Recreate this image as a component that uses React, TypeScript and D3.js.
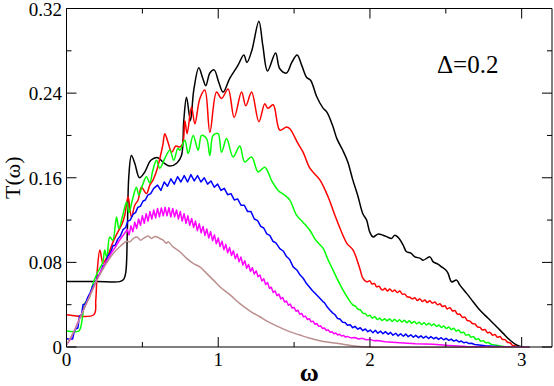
import React from 'react';
import * as d3 from 'd3';

// curve data: [omega, T]
const blackCurve: [number, number][] = [
  [0, 0.062], [0.2, 0.062], [0.351, 0.0618], [0.378, 0.0642], [0.391, 0.0708], [0.401, 0.11], [0.411, 0.162],
  [0.428, 0.181], [0.45, 0.1737], [0.481, 0.16], [0.514, 0.165], [0.556, 0.1765], [0.602, 0.179], [0.641, 0.174],
  [0.681, 0.171], [0.728, 0.174], [0.758, 0.181], [0.773, 0.214], [0.791, 0.236], [0.817, 0.214], [0.839, 0.243],
  [0.872, 0.264], [0.898, 0.254], [0.918, 0.247], [0.945, 0.259], [0.973, 0.262], [1.004, 0.25], [1.032, 0.241],
  [1.076, 0.254], [1.129, 0.266], [1.169, 0.276], [1.189, 0.269], [1.221, 0.28], [1.268, 0.308], [1.294, 0.285],
  [1.325, 0.261], [1.378, 0.278], [1.406, 0.263], [1.45, 0.259], [1.485, 0.269], [1.52, 0.276], [1.551, 0.266],
  [1.582, 0.255], [1.61, 0.252], [1.648, 0.237], [1.69, 0.226], [1.716, 0.222], [1.755, 0.209], [1.782, 0.197],
  [1.821, 0.186], [1.854, 0.175], [1.887, 0.158], [1.92, 0.143], [1.953, 0.126], [1.978, 0.12], [1.999, 0.1086],
  [2.021, 0.104], [2.052, 0.1067], [2.087, 0.1057], [2.118, 0.1038], [2.142, 0.1026], [2.164, 0.1057], [2.191, 0.1029],
  [2.219, 0.0963], [2.241, 0.09], [2.27, 0.0887], [2.296, 0.0852], [2.329, 0.084], [2.351, 0.0821], [2.395, 0.0852],
  [2.417, 0.0805], [2.448, 0.0783], [2.472, 0.0758], [2.5, 0.0727], [2.515, 0.0696], [2.538, 0.0616], [2.571, 0.0632],
  [2.593, 0.0585], [2.637, 0.0507], [2.68, 0.0428], [2.724, 0.0349], [2.779, 0.0271], [2.835, 0.0192], [2.878, 0.0129],
  [2.922, 0.0066], [2.966, 0.0019], [3.01, 0], [3.05, 0],
];

const redCurve: [number, number][] = [
  [0, 0.0305], [0.18, 0.0305], [0.193, 0.0444], [0.203, 0.0727], [0.22, 0.0916], [0.241, 0.079], [0.259, 0.0831],
  [0.274, 0.0868], [0.307, 0.0994], [0.338, 0.1086], [0.365, 0.116], [0.384, 0.1246], [0.406, 0.142], [0.428, 0.123],
  [0.45, 0.134], [0.472, 0.139], [0.494, 0.151], [0.527, 0.145], [0.549, 0.153], [0.571, 0.158], [0.595, 0.167],
  [0.615, 0.178], [0.635, 0.191], [0.648, 0.2017], [0.668, 0.194], [0.694, 0.184], [0.72, 0.19], [0.747, 0.189],
  [0.767, 0.1926], [0.78, 0.214], [0.795, 0.2017], [0.824, 0.227], [0.846, 0.211], [0.879, 0.235], [0.912, 0.243],
  [0.945, 0.203], [0.989, 0.241], [1.022, 0.235], [1.065, 0.244], [1.105, 0.217], [1.154, 0.241], [1.182, 0.228],
  [1.22, 0.241], [1.268, 0.213], [1.307, 0.23], [1.327, 0.2256], [1.362, 0.229], [1.406, 0.205], [1.45, 0.208],
  [1.472, 0.2064], [1.527, 0.192], [1.56, 0.184], [1.604, 0.169], [1.67, 0.158], [1.724, 0.142], [1.769, 0.1246],
  [1.808, 0.1104], [1.848, 0.098], [1.889, 0.0916], [1.933, 0.0743], [1.953, 0.0651], [1.978, 0.0616],
  [2.0, 0.0625], [2.013, 0.0595], [2.03, 0.06], [2.044, 0.0569], [2.06, 0.0575], [2.075, 0.0545], [2.087, 0.054],
  [2.1, 0.0555], [2.115, 0.053], [2.131, 0.0548], [2.148, 0.0525], [2.164, 0.0538], [2.18, 0.0515], [2.197, 0.053],
  [2.213, 0.05], [2.23, 0.05], [2.245, 0.0475], [2.263, 0.047], [2.28, 0.0455], [2.296, 0.0465], [2.312, 0.044],
  [2.329, 0.0455], [2.345, 0.043], [2.362, 0.0445], [2.378, 0.042], [2.395, 0.0438], [2.41, 0.0415], [2.428, 0.0425],
  [2.445, 0.04], [2.461, 0.0408], [2.478, 0.0382], [2.494, 0.039], [2.51, 0.036], [2.527, 0.0372], [2.545, 0.034],
  [2.56, 0.0345], [2.577, 0.031], [2.593, 0.031], [2.61, 0.028], [2.626, 0.0282], [2.642, 0.025], [2.659, 0.0245],
  [2.675, 0.0222], [2.692, 0.0218], [2.708, 0.019], [2.725, 0.0185], [2.742, 0.016], [2.758, 0.0165], [2.775, 0.0135],
  [2.791, 0.0138], [2.808, 0.0112], [2.824, 0.0118], [2.84, 0.0092], [2.857, 0.01], [2.873, 0.0072], [2.89, 0.007],
  [2.906, 0.0045], [2.923, 0.004], [2.94, 0.0015], [2.96, 0.001], [2.977, 0], [3.05, 0],
];

const greenCurve: [number, number][] = [
  [0, 0.0151], [0.081, 0.0151], [0.094, 0.0189], [0.107, 0.0302], [0.121, 0.0415], [0.14, 0.0444], [0.154, 0.0481],
  [0.175, 0.06], [0.2, 0.0689], [0.22, 0.0746], [0.239, 0.08], [0.252, 0.0916], [0.266, 0.084], [0.285, 0.104],
  [0.305, 0.101], [0.33, 0.123], [0.345, 0.112], [0.371, 0.1246], [0.396, 0.137], [0.411, 0.127], [0.437, 0.1406],
  [0.461, 0.151], [0.477, 0.1435], [0.503, 0.154], [0.527, 0.161], [0.549, 0.155], [0.569, 0.167], [0.593, 0.1765],
  [0.615, 0.169], [0.648, 0.1784], [0.681, 0.186], [0.707, 0.1765], [0.734, 0.188], [0.747, 0.186], [0.78, 0.1954],
  [0.802, 0.183], [0.835, 0.2], [0.868, 0.186], [0.89, 0.2], [0.923, 0.197], [0.945, 0.181], [0.966, 0.2],
  [0.999, 0.2017], [1.022, 0.184], [1.055, 0.197], [1.098, 0.1796], [1.142, 0.19], [1.175, 0.175], [1.22, 0.1796],
  [1.263, 0.1655], [1.307, 0.17], [1.351, 0.1576], [1.395, 0.148], [1.439, 0.1435], [1.472, 0.1388], [1.516, 0.1246],
  [1.558, 0.118], [1.604, 0.1104], [1.643, 0.101], [1.692, 0.0932], [1.722, 0.0831], [1.757, 0.0727], [1.788, 0.0632],
  [1.823, 0.0538], [1.854, 0.0463], [1.889, 0.0396],
  [1.905, 0.0385], [1.92, 0.0359], [1.937, 0.035], [1.955, 0.0318], [1.97, 0.0315], [1.985, 0.0292], [1.999, 0.03],
  [2.015, 0.0275], [2.032, 0.0285], [2.048, 0.026], [2.065, 0.0272], [2.08, 0.025], [2.097, 0.0268], [2.113, 0.0248],
  [2.13, 0.0265], [2.146, 0.0242], [2.162, 0.0262], [2.178, 0.024], [2.195, 0.0258], [2.21, 0.0236], [2.227, 0.0252],
  [2.243, 0.023], [2.26, 0.0248], [2.276, 0.0225], [2.292, 0.0242], [2.308, 0.022], [2.325, 0.0235], [2.341, 0.0212],
  [2.357, 0.023], [2.373, 0.0208], [2.39, 0.0225], [2.406, 0.0202], [2.422, 0.0218], [2.438, 0.0195], [2.455, 0.0208],
  [2.471, 0.0185], [2.487, 0.0198], [2.503, 0.0175], [2.52, 0.0188], [2.536, 0.0165], [2.552, 0.0178], [2.568, 0.0152],
  [2.585, 0.016], [2.6, 0.0135], [2.617, 0.014], [2.633, 0.0112], [2.65, 0.0118], [2.666, 0.0092], [2.682, 0.0098],
  [2.698, 0.0072], [2.715, 0.0078], [2.731, 0.0055], [2.747, 0.006], [2.763, 0.004], [2.78, 0.0042], [2.8, 0.0025],
  [2.83, 0.0018], [2.857, 0.001], [2.923, 0], [3.05, 0],
];

const blueCurve: [number, number][] = [
  [0, 0.0075], [0.04, 0.0075], [0.05, 0.014], [0.06, 0.017], [0.075, 0.018], [0.085, 0.029], [0.1, 0.031],
  [0.109, 0.04], [0.125, 0.041], [0.14, 0.047], [0.155, 0.051], [0.175, 0.058], [0.19, 0.06], [0.206, 0.067],
  [0.22, 0.069], [0.241, 0.077], [0.255, 0.078], [0.272, 0.086], [0.29, 0.089], [0.307, 0.096], [0.32, 0.096],
  [0.338, 0.102], [0.355, 0.105], [0.373, 0.111], [0.39, 0.113], [0.404, 0.119], [0.42, 0.12], [0.439, 0.1256],
  [0.455, 0.127], [0.47, 0.132], [0.487, 0.133], [0.505, 0.138], [0.52, 0.139], [0.536, 0.1435], [0.555, 0.145],
  [0.575, 0.15], [0.6, 0.153], [0.622, 0.148], [0.644, 0.156], [0.666, 0.152], [0.688, 0.159], [0.71, 0.154],
  [0.732, 0.161], [0.754, 0.156], [0.776, 0.162], [0.798, 0.156], [0.82, 0.163], [0.842, 0.157], [0.864, 0.162],
  [0.886, 0.156], [0.908, 0.16], [0.93, 0.154], [0.952, 0.157], [0.974, 0.151], [0.996, 0.154], [1.018, 0.148],
  [1.04, 0.15], [1.062, 0.144], [1.084, 0.145], [1.106, 0.139], [1.128, 0.14], [1.15, 0.134], [1.172, 0.134],
  [1.194, 0.128], [1.216, 0.128], [1.238, 0.121], [1.26, 0.1195], [1.28, 0.114], [1.3, 0.1125], [1.32, 0.107],
  [1.34, 0.1055], [1.36, 0.1], [1.38, 0.0985], [1.406, 0.093], [1.43, 0.0905], [1.45, 0.0855], [1.47, 0.083],
  [1.494, 0.0758], [1.52, 0.0725], [1.54, 0.068], [1.56, 0.065], [1.582, 0.06], [1.6, 0.057], [1.62, 0.0535],
  [1.64, 0.0505], [1.67, 0.046], [1.69, 0.043], [1.7, 0.042], [1.72, 0.0375], [1.736, 0.0349], [1.752, 0.0325],
  [1.77, 0.0305], [1.786, 0.027], [1.802, 0.0265], [1.82, 0.0235], [1.836, 0.0232], [1.852, 0.0205], [1.87, 0.021],
  [1.886, 0.0182], [1.902, 0.0195], [1.92, 0.0168], [1.936, 0.0182], [1.952, 0.0155], [1.97, 0.017], [1.986, 0.0145],
  [2.002, 0.016], [2.02, 0.0135], [2.036, 0.0158], [2.052, 0.013], [2.07, 0.015], [2.086, 0.0125], [2.102, 0.0145],
  [2.12, 0.012], [2.136, 0.0138], [2.152, 0.0112], [2.17, 0.013], [2.186, 0.0105], [2.202, 0.0125], [2.22, 0.0102],
  [2.236, 0.0122], [2.252, 0.0098], [2.27, 0.0115], [2.286, 0.0092], [2.302, 0.011], [2.32, 0.0088], [2.336, 0.0105],
  [2.352, 0.0085], [2.37, 0.0102], [2.386, 0.008], [2.402, 0.0098], [2.42, 0.0078], [2.436, 0.0092], [2.452, 0.0072],
  [2.47, 0.0088], [2.486, 0.0068], [2.502, 0.0082], [2.52, 0.0062], [2.536, 0.0075], [2.552, 0.0056], [2.57, 0.0066],
  [2.586, 0.0048], [2.602, 0.0056], [2.62, 0.004], [2.636, 0.0046], [2.652, 0.0032], [2.67, 0.0036], [2.69, 0.0024],
  [2.72, 0.002], [2.76, 0.0012], [2.812, 0.0008], [2.9, 0], [3.05, 0],
];

const magentaCurve: [number, number][] = [
  [0, 0.002], [0.02, 0.006], [0.04, 0.012], [0.06, 0.018], [0.08, 0.025], [0.1, 0.031], [0.12, 0.038], [0.14, 0.044],
  [0.16, 0.051], [0.18, 0.057], [0.2, 0.064], [0.22, 0.07], [0.24, 0.075], [0.26, 0.08], [0.28, 0.085], [0.3, 0.09],
  [0.32, 0.094], [0.34, 0.099], [0.36, 0.103], [0.38, 0.107],
  [0.4, 0.111], [0.4125, 0.106], [0.425, 0.1145], [0.4375, 0.109], [0.45, 0.118], [0.4625, 0.112], [0.475, 0.121],
  [0.4875, 0.115], [0.5, 0.124], [0.5125, 0.117], [0.525, 0.126], [0.5375, 0.119], [0.55, 0.128], [0.5625, 0.121],
  [0.575, 0.1295], [0.5875, 0.122], [0.6, 0.131], [0.6125, 0.123], [0.625, 0.1315], [0.6375, 0.124], [0.65, 0.132],
  [0.6625, 0.124], [0.675, 0.1317], [0.6875, 0.123], [0.7, 0.131], [0.7125, 0.123], [0.725, 0.1295], [0.7375, 0.121],
  [0.75, 0.128], [0.7625, 0.119], [0.775, 0.126], [0.7875, 0.117], [0.8, 0.124], [0.8125, 0.115], [0.825, 0.1215],
  [0.8375, 0.113], [0.85, 0.119], [0.8625, 0.11], [0.875, 0.1165], [0.8875, 0.108], [0.9, 0.114], [0.9125, 0.1055],
  [0.925, 0.1115], [0.9375, 0.103], [0.95, 0.109], [0.9625, 0.1005], [0.975, 0.106], [0.9875, 0.0975], [1.0, 0.103],
  [1.0125, 0.095], [1.025, 0.1], [1.0375, 0.092], [1.05, 0.097], [1.0625, 0.089], [1.075, 0.094], [1.0875, 0.0865],
  [1.1, 0.091], [1.1125, 0.0835], [1.125, 0.088], [1.1375, 0.0805], [1.15, 0.085], [1.1625, 0.0775], [1.175, 0.0815],
  [1.1875, 0.0745], [1.2, 0.078], [1.2125, 0.0715], [1.225, 0.075], [1.2375, 0.069], [1.25, 0.072], [1.2625, 0.0665],
  [1.275, 0.068], [1.2875, 0.0625], [1.3, 0.0645], [1.3125, 0.059], [1.325, 0.061], [1.3375, 0.0555], [1.35, 0.0565],
  [1.3625, 0.0515], [1.375, 0.053], [1.3875, 0.0485], [1.4, 0.05], [1.4125, 0.0455], [1.425, 0.0468], [1.4375, 0.0425],
  [1.45, 0.0435], [1.4625, 0.0395], [1.475, 0.0405], [1.4875, 0.0368], [1.5, 0.0375], [1.5125, 0.0338], [1.525, 0.0348],
  [1.5375, 0.031], [1.55, 0.0318], [1.5625, 0.0285], [1.575, 0.0292], [1.5875, 0.026], [1.6, 0.0268], [1.6125, 0.0238],
  [1.625, 0.0245], [1.6375, 0.0215], [1.65, 0.0222], [1.6625, 0.0195], [1.675, 0.02], [1.6875, 0.0175], [1.7, 0.018],
  [1.7125, 0.0156], [1.725, 0.0162], [1.7375, 0.014], [1.75, 0.0145], [1.7625, 0.0126], [1.775, 0.0132], [1.7875, 0.0114],
  [1.8, 0.012], [1.8125, 0.0104], [1.825, 0.011], [1.8375, 0.0094], [1.85, 0.01], [1.875, 0.0086], [1.9, 0.009],
  [1.925, 0.0076], [1.95, 0.0082], [1.975, 0.0068], [2.0, 0.0072], [2.025, 0.006], [2.05, 0.0062], [2.1, 0.005],
  [2.197, 0.004], [2.3, 0.003], [2.417, 0.0025], [2.52, 0.0015], [2.637, 0.0005], [2.857, 0], [3.05, 0],
];

const brownCurve: [number, number][] = [
  [0, 0.002], [0.05, 0.015], [0.1, 0.031], [0.15, 0.047], [0.2, 0.063], [0.25, 0.076], [0.3, 0.087], [0.33, 0.092],
  [0.36, 0.096], [0.396, 0.1], [0.417, 0.0994], [0.444, 0.103], [0.465, 0.104], [0.488, 0.101], [0.51, 0.103],
  [0.538, 0.105], [0.56, 0.1026], [0.582, 0.1045], [0.604, 0.1035], [0.615, 0.1026], [0.637, 0.101], [0.659, 0.098],
  [0.67, 0.0994], [0.7, 0.095], [0.747, 0.09], [0.79, 0.084], [0.835, 0.079], [0.879, 0.0758], [0.923, 0.0696],
  [0.97, 0.063], [1.011, 0.057], [1.08, 0.049], [1.143, 0.041], [1.21, 0.034], [1.274, 0.0286], [1.34, 0.023],
  [1.406, 0.0186], [1.47, 0.0145], [1.538, 0.0113], [1.6, 0.0085], [1.67, 0.006], [1.73, 0.0045], [1.802, 0.003],
  [1.9, 0.001], [1.978, 0], [3.05, 0],
];

const xMajor = [0, 1, 2, 3];
const xMinor = [0.5, 1.5, 2.5];
const yMajor = [0, 0.08, 0.16, 0.24, 0.32];
const yMinor = [0.04, 0.12, 0.2, 0.28];
const yLabels = ['0', '0.08', '0.16', '0.24', '0.32'];

const W = 554, H = 386;
const L = 66.5, R = 552, T = 8.5, B = 347;
const font = '"Liberation Serif", "Times New Roman", serif';

export default function App() {
  const x = d3.scaleLinear().domain([0, 3.2]).range([L, R]);
  const y = d3.scaleLinear().domain([0, 0.32]).range([B, T]);

  const smooth = d3.line<[number, number]>().x(d => x(d[0])).y(d => y(d[1])).curve(d3.curveCatmullRom.alpha(0.5));
  const straight = d3.line<[number, number]>().x(d => x(d[0])).y(d => y(d[1]));

  const series = [
    { data: blackCurve, color: '#000000', gen: smooth },
    { data: redCurve, color: '#ff0000', gen: smooth },
    { data: greenCurve, color: '#00ff00', gen: smooth },
    { data: blueCurve, color: '#0000ff', gen: straight },
    { data: magentaCurve, color: '#ff00ff', gen: straight },
    { data: brownCurve, color: '#bc8f8f', gen: smooth },
  ];

  return (
    <div style={{ position: 'absolute', left: 0, top: 0 }}>
      <svg width={W} height={H} style={{ display: 'block', background: '#fff' }}>
        <defs>
          <clipPath id="plot">
            <rect x={L} y={T} width={R - L} height={B - T + 1} />
          </clipPath>
        </defs>
        <g clipPath="url(#plot)">
          {series.map((s, i) => (
            <path key={i} d={s.gen(s.data) || ''} fill="none" stroke={s.color} strokeWidth={1.5} strokeLinejoin="round" />
          ))}
        </g>

        {/* frame */}
        <line x1={L} x2={R} y1={T} y2={T} stroke="#000" />
        <line x1={L} x2={L} y1={T} y2={B} stroke="#000" />
        <line x1={L} x2={R} y1={B} y2={B} stroke="#000" />
        <line x1={R} x2={R} y1={T} y2={B} stroke="#000" />

        {/* ticks, all pointing inward */}
        {xMajor.map(v => (
          <g key={'xM' + v}>
            <line x1={x(v)} x2={x(v)} y1={B} y2={B - 10} stroke="#000" />
            <line x1={x(v)} x2={x(v)} y1={T} y2={T + 10} stroke="#000" />
            <text x={x(v)} y={366} textAnchor="middle" fontFamily={font} fontSize={19}>{v}</text>
          </g>
        ))}
        {xMinor.map(v => (
          <g key={'xm' + v}>
            <line x1={x(v)} x2={x(v)} y1={B} y2={B - 5} stroke="#000" />
            <line x1={x(v)} x2={x(v)} y1={T} y2={T + 5} stroke="#000" />
          </g>
        ))}
        {yMajor.map((v, i) => (
          <g key={'yM' + v}>
            <line x1={L} x2={L + 10} y1={y(v)} y2={y(v)} stroke="#000" />
            <line x1={R} x2={R - 10} y1={y(v)} y2={y(v)} stroke="#000" />
            <text x={62} y={y(v) + 7} textAnchor="end" fontFamily={font} fontSize={19}>{yLabels[i]}</text>
          </g>
        ))}
        {yMinor.map(v => (
          <g key={'ym' + v}>
            <line x1={L} x2={L + 5} y1={y(v)} y2={y(v)} stroke="#000" />
            <line x1={R} x2={R - 5} y1={y(v)} y2={y(v)} stroke="#000" />
          </g>
        ))}

        <text x={(L + R) / 2} y={381} textAnchor="middle" fontFamily={font} fontSize={26} fontWeight="bold">ω</text>
        <text transform={`translate(20, ${(T + B) / 2}) rotate(-90)`} textAnchor="middle" fontFamily={font} fontSize={22}>T(ω)</text>
        <text x={437} y={73} fontFamily={font} fontSize={25}>Δ=0.2</text>
      </svg>
    </div>
  );
}
